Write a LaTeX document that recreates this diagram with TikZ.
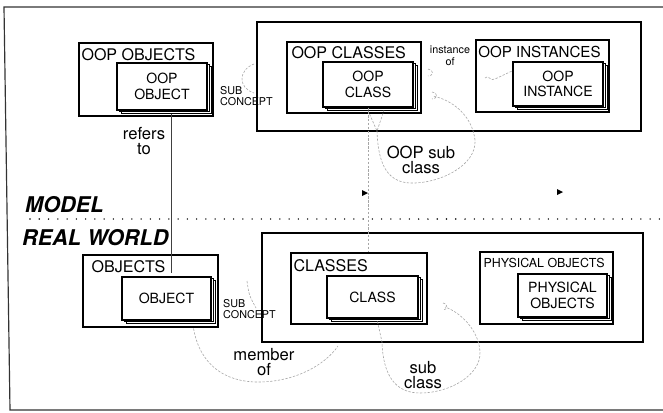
\documentclass[tikz,border=0pt]{standalone}
\usepackage{fontspec}
\setmainfont{TeX Gyre Heros}
\usetikzlibrary{positioning, shadows, calc}

\begin{document}
\begin{tikzpicture}[x=0.03cm, y=-0.03cm,
  realm/.style={draw, line width=1.4pt, inner sep=0pt},
  groupbox/.style={draw, line width=1.1pt, inner sep=0pt},
  card/.style={draw, line width=0.9pt, fill=white, align=center, inner sep=0pt,
    font=\fontsize{12}{13.2}\selectfont,
    copy shadow={shadow xshift=3.8pt, shadow yshift=-3.2pt},
    copy shadow={shadow xshift=1.9pt, shadow yshift=-1.6pt}},
  head/.style={anchor=north west, inner sep=2pt, font=\fontsize{13.7}{15}\selectfont},
  smallhead/.style={head, font=\fontsize{10.6}{12}\selectfont},
  rel/.style={align=center, inner sep=0pt, font=\fontsize{14.2}{13}\selectfont},
  smallrel/.style={align=center, inner sep=0pt, font=\fontsize{9.2}{10.2}\selectfont},
  sublbl/.style={align=left, anchor=west, inner sep=0pt, font=\fontsize{9.2}{9.3}\selectfont},
  level/.style={anchor=base west, inner sep=0pt, font=\fontsize{18.5}{20}\selectfont\bfseries\itshape},
  faint/.style={gray!70, line width=0.5pt, dash pattern=on 2pt off 1.3pt},
  sepline/.style={line width=1.3pt, line cap=round, dash pattern=on 0pt off 7.9pt},
]
\path[use as bounding box, fill=white] (0,0) rectangle (663,412);

% frame
\draw[line width=1pt, black!80] (663,7) -- (4,7) -- (10,410) -- (663,410);

% model side
\node[groupbox, minimum width=4.02cm, minimum height=2.19cm] (oopobjs) at (146,79.5) {};
\node[head] (oopobjslbl) at ([xshift=0.5pt, yshift=-3pt]oopobjs.north west) {OOP OBJECTS};
\node[card, minimum width=2.7cm, minimum height=1.41cm] (oopobj) at (162,86.5) {OOP\\OBJECT};

\node[realm, minimum width=11.52cm, minimum height=3.27cm] (model) at (449,76.5) {};
\node[groupbox, minimum width=4.02cm, minimum height=2.13cm] (oopclasses) at (354,77.5) {};
\node[head] (oopclasseslbl) at ([xshift=2.2pt, yshift=-2.3pt]oopclasses.north west) {OOP CLASSES};
\node[card, minimum width=2.7cm, minimum height=1.35cm] (oopclass) at (368,84.5) {OOP\\CLASS};
\node[groupbox, minimum width=3.99cm, minimum height=2.16cm] (oopinsts) at (542.5,76) {};
\node[head, font=\fontsize{12.9}{15}\selectfont] (oopinstslbl) at ([xshift=0.3pt, yshift=-4pt]oopinsts.north west) {OOP INSTANCES};
\node[card, minimum width=2.7cm, minimum height=1.32cm] (oopinst) at (558,84) {OOP\\INSTANCE};

% real world side
\node[groupbox, minimum width=4.05cm, minimum height=2.16cm] (objects) at (150.5,291) {};
\node[head] (objectslbl) at ([xshift=5.7pt, yshift=-3.1pt]objects.north west) {OBJECTS};
\node[card, minimum width=2.67cm, minimum height=1.29cm] (object) at (166.5,298.5) {OBJECT};

\node[realm, minimum width=11.43cm, minimum height=3.27cm] (world) at (452.5,287.5) {};
\node[groupbox, minimum width=4.08cm, minimum height=2.13cm] (classes) at (359,288.5) {};
\node[head] (classeslbl) at ([xshift=0.5pt, yshift=-4pt]classes.north west) {CLASSES};
\node[card, minimum width=2.73cm, minimum height=1.26cm] (class) at (372.5,297) {CLASS};
\node[groupbox, minimum width=3.99cm, minimum height=2.16cm] (physobjs) at (546.5,288) {};
\node[smallhead] (physobjslbl) at ([xshift=1.4pt, yshift=-4pt]physobjs.north west) {PHYSICAL OBJECTS};
\node[card, minimum width=2.67cm, minimum height=1.29cm] (physobj) at (562.5,295.5) {PHYSICAL\\OBJECTS};

% levels
\node[level] (modellbl) at (25,212) {MODEL};
\node[level] (worldlbl) at (22,245) {REAL WORLD};
\draw[sepline] (30,219) -- (663,219);

% relation labels
\node[rel] (refers) at (144,141) {refers\\to};
\node[smallrel] (instof) at (450,56) {instance\\of};
\node[sublbl] (subcon) at (220,96) {SUB\\CONCEPT};
\node[rel] (oopsub) at (421,160) {OOP sub\\class};
\node[sublbl] (subconw) at (223,309) {SUB\\CONCEPT};
\node[rel] (member) at (264,362) {member\\of};
\node[rel] (subcls) at (423,375) {sub\\class};

% connectors
\draw[line width=0.6pt, black!75] ($(oopobj.south)+(9,3)$) -- ($(object.north)+(4.5,-3)$);
\draw[faint] (oopclass.south) -- (oopclass.south |- classes.north);
\fill (362,190) -- (368,193) -- (362,196) -- cycle;
\fill (557,189) -- (563,192) -- (557,195) -- cycle;

% sub concept
\draw[faint] (254,64) .. controls (238,70) and (238,88) .. (254,93);
\draw[faint] (247,281) .. controls (249,295) .. (256,308);

% instance of
\draw[faint] (428,69) .. controls (434,70) and (434,76) .. (428,76);
\draw[faint] (485,78) .. controls (488,74) and (491,82) .. (495,79) -- (512,71);

% OOP sub class
\draw[faint] ($(oopclass.south)+(0,3)$) -- (377,131) -- ($(oopclass.south)+(16,3)$);
\draw[faint] (377,131) .. controls (378,160) and (385,182) .. (410,183)
  .. controls (440,184) and (477,165) .. (475,140)
  .. controls (472,115) and (452,100) .. (433,96);
\draw[faint] (432,92) .. controls (438,92) and (438,99) .. (432,99);

% member of
\draw[faint] ($(object.south east)+(-18,8)$) .. controls (200,365) and (225,382) .. (258,382)
  .. controls (295,382) and (325,365) .. (338,346);

% sub class
\draw[faint] ($(class.south)+(5,3)$) -- (382,342) .. controls (383,375) and (395,393) .. (420,393)
  .. controls (450,393) and (481,375) .. (480,352)
  .. controls (479,330) and (460,312) .. (445,307);
\draw[faint] (443,303) .. controls (448,303) and (448,310) .. (443,310);
\end{tikzpicture}
\end{document}
